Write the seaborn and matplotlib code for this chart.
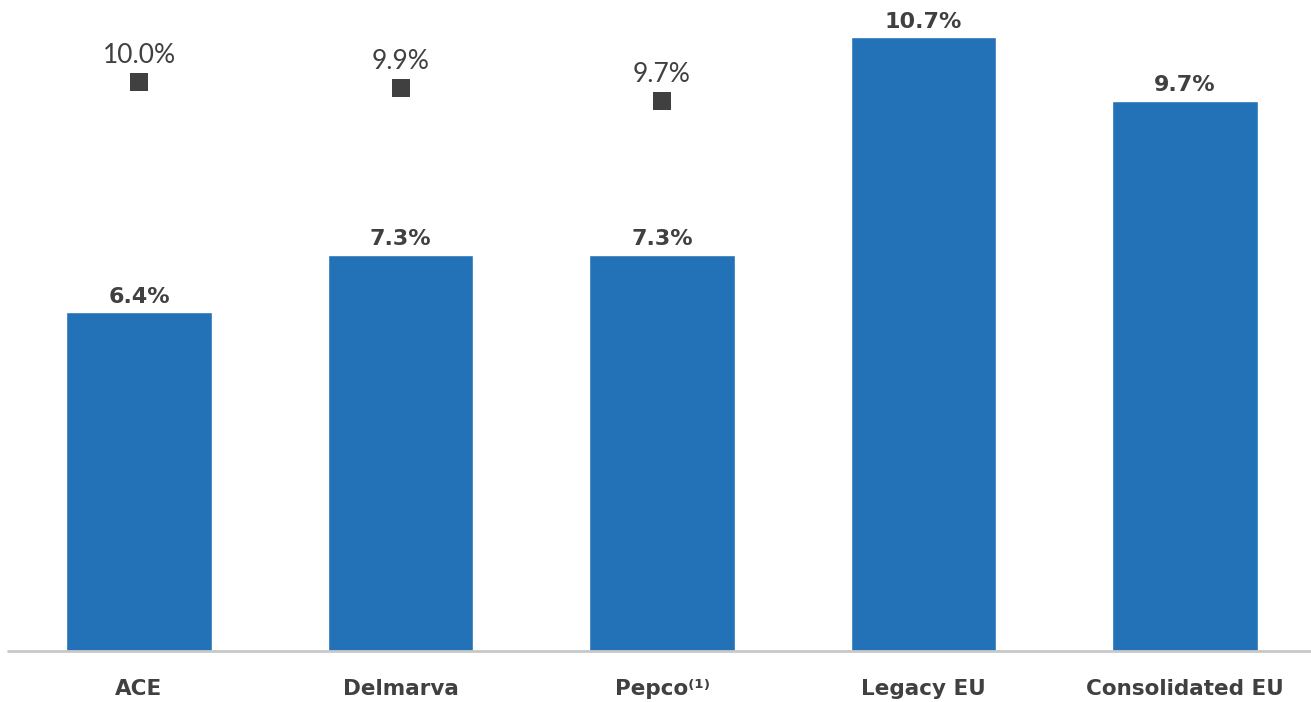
import matplotlib
matplotlib.use("Agg")
import matplotlib.pyplot as plt
import seaborn as sns
import pandas as pd

categories = ["ACE", "Delmarva", "Pepco\u207d\u00b9\u207e", "Legacy EU", "Consolidated EU"]
bar_values = [6.4, 7.3, 7.3, 10.7, 9.7]
marker_categories = ["ACE", "Delmarva", "Pepco\u207d\u00b9\u207e"]
marker_values = [10.0, 9.9, 9.7]

sns.set_theme(style="white")
plt.rcParams['font.family'] = ['DejaVu Sans']

fig = plt.figure(figsize=(13.11, 7.02), dpi=100)
ax = fig.add_axes([0.0, 1 - 651 / 702, 1.0, 651 / 702])

df = pd.DataFrame({"cat": categories, "val": bar_values})
sns.barplot(data=df, x="cat", y="val", color="#2371b6", saturation=1,
            width=0.558, ax=ax)

mdf = pd.DataFrame({"cat": marker_categories, "val": marker_values})
ax.scatter(range(len(marker_values)), mdf["val"], marker="s", s=170,
           color="#404040", zorder=3, linewidths=0)

ymin, ymax = 1.1, 11.28
ax.set_ylim(ymin, ymax)
ax.set_xlim(-0.5316, 4.4818)

for i, v in enumerate(bar_values):
    ax.annotate(f"{v:.1f}%", (i, v), xytext=(0, 4), textcoords="offset points",
                ha="center", va="bottom", fontsize=16, fontweight="bold",
                color="#404040")
for i, v in enumerate(marker_values):
    ax.annotate(f"{v:.1f}%", (i, v), xytext=(0, 10), textcoords="offset points",
                ha="center", va="bottom", fontsize=19, family=["Lato", "DejaVu Sans"],
                color="#404040")

for s in ["top", "right", "left", "bottom"]:
    ax.spines[s].set_visible(False)
ax.plot([8 / 1311, 1.0], [0, 0], transform=ax.transAxes, color="#c8c8c8",
        lw=2, clip_on=False, zorder=4)

ax.set_yticks([])
ax.set_xlabel("")
ax.set_ylabel("")
ax.tick_params(axis="x", length=0, pad=20)
for lbl in ax.get_xticklabels():
    lbl.set_fontsize(15.5)
    lbl.set_fontweight("bold")
    lbl.set_color("#404040")

fig.savefig("out.png", dpi=100)
